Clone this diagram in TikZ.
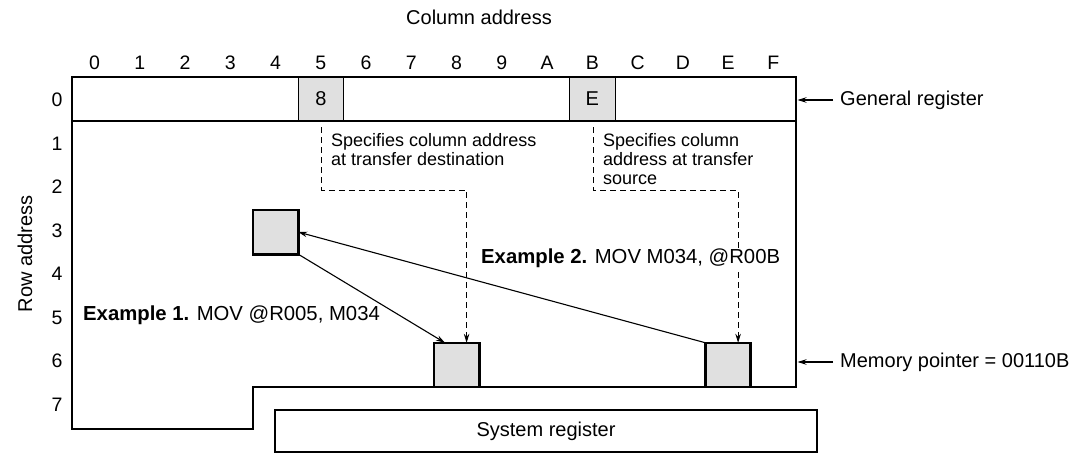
\documentclass[tikz,border=0pt]{standalone}
\usepackage{fontspec}
\setmainfont{Liberation Sans}
\usetikzlibrary{arrows.meta,calc}
\begin{document}
\begin{tikzpicture}[x=1pt,y=-1pt,
  frameline/.style={line width=2.6pt,line join=miter},
  memcell/.style={draw,line width=2.6pt,fill=black!12,minimum width=45.25pt,minimum height=44.3pt,inner sep=0pt,outer sep=0pt},
  regcell/.style={draw,line width=0.8pt,fill=black!12,minimum width=45.25pt,minimum height=44pt,inner sep=0pt,outer sep=0pt,font=\fontsize{20}{24}\selectfont},
  lbl/.style={font=\fontsize{20}{24}\selectfont,inner sep=0pt},
  numlbl/.style={font=\fontsize{19.5}{24}\selectfont,inner sep=0pt},
  note/.style={font=\fontsize{18}{19}\selectfont,align=left,inner sep=0pt,anchor=north west},
  exlbl/.style={font=\fontsize{20.3}{24}\selectfont,inner sep=1pt,anchor=west,fill=white},
  arr/.style={line width=1.1pt,-{Stealth[length=9pt,width=5.5pt]}},
  darr/.style={line width=0.9pt,dash pattern=on 6pt off 4pt,-{Stealth[length=9pt,width=5.5pt]}},
]
\useasboundingbox (0,0) rectangle (1083,455);
\fill[white] (0,0) rectangle (1083,455);

% titles
\node[lbl] (title) at (479,17) {Column address};
\node[lbl,rotate=90] (rowtitle) at (25,254) {Row address};

% column labels
\foreach \c/\t in {0/0,1/1,2/2,3/3,4/4,5/5,6/6,7/7,8/8,9/9,10/A,11/B,12/C,13/D,14/E,15/F}
  \node[numlbl] (col\c) at ({94.6+45.25*\c},63) {\t};
% row labels
\foreach \r in {0,...,7}
  \node[numlbl] (row\r) at (57,{100+43.5*\r}) {\r};

% general register cells
\node[regcell] (g5) at (320.85,99) {8};
\node[regcell] (gB) at (592.35,99) {E};

% frames
\draw[frameline] (72,77) rectangle (796,121);
\draw[frameline] (796,121) -- (72,121) -- (72,429) -- (253,429) -- (253,387) -- (796,387) -- cycle;

% memory cells
\node[memcell] (m43) at (275.6,232.05) {};
\node[memcell] (m86) at (456.6,364.95) {};
\node[memcell] (mE6) at (728.1,364.95) {};

% system register
\node[draw,line width=2.6pt,minimum width=542pt,minimum height=42pt,lbl] (sys) at (546,431) {System register};

% annotations
\node[note] (n1) at (331,133) {Specifies column address\\at transfer destination};
\node[note] (n2) at (603,133) {Specifies column\\address at transfer\\source};

% dashed connectors
\coordinate (h) at (0,190);
\draw[darr] ([xshift=1pt,yshift=-6pt]g5.south) coordinate (d1) -- (d1 |- h) -| ([xshift=10pt]m86.north);
\draw[darr] ([xshift=1pt,yshift=-6pt]gB.south) coordinate (d2) -- (d2 |- h) -| ([xshift=10pt]mE6.north);

% transfer arrows
\draw[arr] (m43.south east) -- ([xshift=11pt]m86.north west);
\draw[arr] (mE6.north west) -- (m43.east);

% example labels
\node[exlbl] (ex1) at (82,315) {\textbf{Example 1.} MOV @R005, M034};
\node[exlbl] (ex2) at (480,258) {\textbf{Example 2.} MOV M034, @R00B};

% right labels
\node[lbl,anchor=west] (glbl) at (840,100) {General register};
\node[lbl,anchor=west] (mplbl) at (840,362) {Memory pointer = 00110B};
\coordinate (gtip) at (797.5,100);
\coordinate (mtip) at (797.5,362);
\draw[arr] ([xshift=-7pt]glbl.west) -- (gtip);
\draw[arr] ([xshift=-7pt]mplbl.west) -- (mtip);
\end{tikzpicture}
\end{document}
